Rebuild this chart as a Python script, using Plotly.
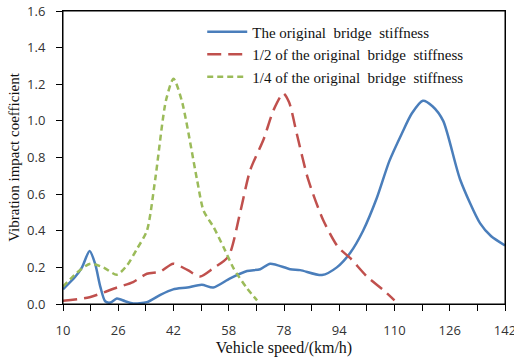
import plotly.graph_objects as go

# x values are in axis units where each labelled tick is 16 apart
tick_pos = [10, 26, 42, 58, 74, 90, 106, 122, 138]
tick_labels = ["10", "26", "42", "58", "78", "94", "110", "126", "142"]

blue_x = [10, 13.6, 15.5, 17.7, 19.3, 20.8, 22.2, 23.7, 25.6, 28, 30.3, 34.3, 38.2, 41.9, 46, 50.2,
          53.5, 58.4, 63.3, 67.1, 70, 75.8, 78.7, 85, 89.3, 93.2, 96.9, 100.9, 104.5, 108.1, 111,
          114.2, 117, 120.1, 125, 130.8, 134, 138]
blue_y = [0.08, 0.15, 0.2, 0.29, 0.22, 0.095, 0.015, 0.008, 0.03, 0.015, 0.003, 0.01, 0.05, 0.08, 0.09, 0.105,
          0.09, 0.14, 0.18, 0.19, 0.22, 0.19, 0.185, 0.158, 0.2, 0.28, 0.4, 0.58, 0.78, 0.93, 1.04,
          1.11, 1.08, 1.0, 0.68, 0.44, 0.37, 0.32]

red_x = [10, 17.7, 25.6, 30.3, 34.3, 38.2, 41.9, 46, 49.7, 53.5, 57.9, 61.3, 64.2, 68.1, 71,
         73.8, 75.5, 77.7, 81, 85.3, 89.7, 93.2, 98, 102.7, 106]
red_y = [0.018, 0.037, 0.09, 0.12, 0.165, 0.177, 0.22, 0.186, 0.15, 0.195, 0.26, 0.5, 0.73, 0.9, 1.06,
         1.15, 1.1, 0.93, 0.68, 0.46, 0.31, 0.25, 0.15, 0.077, 0.02]

green_x = [10, 14, 17.9, 21.7, 25.6, 28.5, 31.4, 34.3, 36.7, 39.8, 42, 44.4, 48.8, 50.7, 53.6,
           56.5, 59.4, 63.3, 66.2]
green_y = [0.095, 0.17, 0.22, 0.2, 0.16, 0.21, 0.3, 0.4, 0.68, 1.11, 1.23, 1.11, 0.68, 0.51, 0.42,
           0.31, 0.195, 0.085, 0.02]

series_names = ["The original  bridge  stiffness",
                "1/2 of the original  bridge  stiffness",
                "1/4 of the original  bridge  stiffness"]

fig = go.Figure()
fig.add_trace(go.Scatter(x=blue_x, y=blue_y, mode="lines", name=series_names[0],
                         line=dict(color="#4a7ebb", width=2.5, shape="spline", smoothing=0.7)))
fig.add_trace(go.Scatter(x=red_x, y=red_y, mode="lines", name=series_names[1],
                         line=dict(color="#c0504d", width=2.5, shape="spline", smoothing=0.7,
                                   dash="14px,7px")))
fig.add_trace(go.Scatter(x=green_x, y=green_y, mode="lines", name=series_names[2],
                         line=dict(color="#9bbb59", width=2.5, shape="spline", smoothing=0.7,
                                   dash="6px,4px")))

tick_font = dict(family="Open Sans, Liberation Sans, sans-serif", size=13, color="#333333")
serif = "Liberation Serif, Times New Roman, serif"

fig.update_layout(
    width=514, height=362,
    margin=dict(l=63, r=9, t=11, b=58, autoexpand=False),
    paper_bgcolor="white", plot_bgcolor="white",
    showlegend=True,
    legend=dict(x=0.315, y=0.985, xanchor="left", yanchor="top",
                font=dict(family=serif, size=15, color="#111111"),
                bgcolor="rgba(0,0,0,0)", tracegroupgap=0, itemwidth=40),
    xaxis=dict(range=[10, 138], tickvals=tick_pos, ticktext=tick_labels,
               ticks="outside", ticklen=6, tickcolor="#000000", tickfont=tick_font,
               ticklabeloverflow="allow", ticklabelstandoff=8, automargin=False,
               showline=True, linecolor="#000000", linewidth=1, mirror=True,
               showgrid=False, zeroline=False,
               minor=dict(tick0=10, dtick=8, ticks="outside", ticklen=6, tickcolor="#000000"),
               title=dict(text="Vehicle speed/(km/h)", font=dict(family=serif, size=16, color="#111111"),
                          standoff=4)),
    yaxis=dict(range=[0, 1.6], dtick=0.2, tickformat=".1f",
               ticks="outside", ticklen=6, tickcolor="#000000", tickfont=tick_font,
               ticklabelstandoff=8, automargin=False,
               showline=True, linecolor="#000000", linewidth=1, mirror=True,
               showgrid=False, zeroline=False,
               title=dict(text="Vibration impact coefficient", font=dict(family=serif, size=15, color="#111111"),
                          standoff=3)),
    shapes=[dict(type="rect", xref="paper", yref="paper", x0=0, x1=1, y0=0, y1=1,
                 line=dict(color="#000000", width=1), layer="above")],
)

fig.write_html("out.html")
